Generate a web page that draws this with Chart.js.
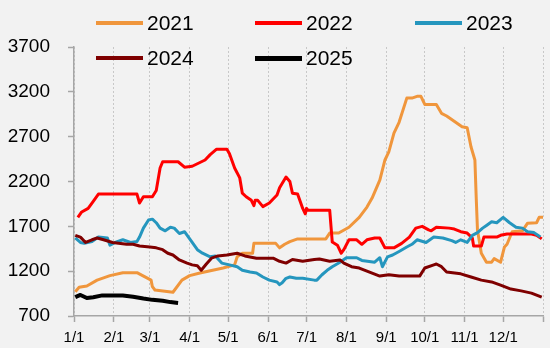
<!DOCTYPE html>
<html>
<head>
<meta charset="utf-8">
<script src="https://cdn.jsdelivr.net/npm/chart.js@4/dist/chart.umd.min.js"></script>
<style>
  html, body { margin: 0; padding: 0; background: #f2f2f2; }
  .wrap { position: relative; width: 550px; height: 348px; }
  .legend { position: absolute; left: 0; top: 0; font-family: 'Liberation Sans', sans-serif; font-size: 21px; color: #000; }
  .item { position: absolute; height: 24px; line-height: 24px; white-space: nowrap; }
  .item i { position: absolute; left: 0; top: 10px; width: 47px; height: 3px; }
  .item span { position: absolute; left: 51px; top: 0; }
</style>
</head>
<body>
<div class="wrap">
  <canvas id="c" width="550" height="348"></canvas>
  <div class="legend" id="legend"></div>
</div>
<script>
// day-of-year positions for month starts and their labels
const monthDays = [0, 31, 59, 90, 120, 151, 181, 212, 243, 273, 304, 334, 365];
const monthLabels = ['1/1', '2/1', '3/1', '4/1', '5/1', '6/1', '7/1', '8/1', '9/1', '10/1', '11/1', '12/1', ''];
const yTicks = [700, 1200, 1700, 2200, 2700, 3200, 3700];

// 2021
const days2021 = [1, 4, 10, 18, 28, 38, 49, 60, 61, 63, 77, 84, 90, 98, 116, 125, 127, 131, 139, 140, 157, 160, 164, 168, 174, 181, 196, 199, 206, 214, 222, 228, 232, 238, 242, 245, 249, 253, 259, 263, 267, 270, 273, 282, 286, 290, 297, 302, 306, 309, 312, 313, 314, 317, 321, 325, 327, 332, 335, 337, 341, 349, 353, 360, 362, 365];
const vals2021 = [970, 1020, 1035, 1100, 1150, 1183, 1183, 1100, 1027, 990, 965, 1100, 1150, 1180, 1235, 1270, 1360, 1400, 1400, 1510, 1510, 1460, 1500, 1530, 1560, 1560, 1560, 1625, 1625, 1690, 1800, 1915, 2015, 2215, 2440, 2530, 2740, 2860, 3130, 3130, 3150, 3150, 3060, 3060, 2960, 2930, 2860, 2810, 2800, 2585, 2440, 2030, 1660, 1400, 1300, 1300, 1340, 1300, 1470, 1500, 1640, 1650, 1735, 1740, 1800, 1800];

// 2022
const days2022 = [3, 6, 11, 14, 19, 49, 51, 54, 61, 64, 67, 69, 81, 86, 92, 102, 106, 111, 119, 121, 125, 129, 131, 134, 138, 140, 141, 143, 147, 152, 158, 160, 165, 168, 170, 174, 178, 180, 181, 182, 199, 201, 205, 208, 210, 214, 220, 224, 228, 234, 238, 242, 249, 255, 261, 266, 271, 276, 278, 282, 292, 296, 301, 306, 310, 311, 317, 319, 329, 332, 337, 356, 360, 364];
const vals2022 = [1800, 1860, 1900, 1960, 2060, 2060, 1960, 2030, 2030, 2100, 2350, 2420, 2420, 2360, 2370, 2440, 2500, 2560, 2560, 2510, 2350, 2240, 2070, 2030, 1990, 1930, 1990, 1990, 1920, 1960, 2050, 2130, 2250, 2200, 2070, 2060, 1900, 1840, 1900, 1880, 1880, 1525, 1490, 1400, 1440, 1550, 1550, 1500, 1550, 1570, 1570, 1460, 1460, 1510, 1580, 1680, 1700, 1660, 1650, 1690, 1680, 1670, 1640, 1625, 1570, 1480, 1480, 1580, 1580, 1600, 1615, 1615, 1600, 1560];

// 2023
const days2023 = [1, 5, 8, 14, 19, 26, 28, 32, 38, 44, 49, 51, 54, 58, 61, 64, 67, 71, 75, 78, 82, 86, 92, 96, 100, 106, 110, 115, 121, 127, 131, 137, 142, 147, 152, 158, 160, 162, 165, 168, 173, 178, 187, 189, 193, 197, 201, 207, 212, 220, 224, 234, 238, 240, 244, 248, 253, 259, 263, 267, 274, 280, 287, 294, 297, 301, 306, 310, 314, 318, 321, 325, 329, 334, 339, 344, 349, 353, 358, 363];
const vals2023 = [1570, 1520, 1510, 1530, 1580, 1570, 1490, 1520, 1550, 1520, 1530, 1580, 1680, 1770, 1780, 1740, 1680, 1650, 1690, 1680, 1620, 1640, 1520, 1440, 1400, 1360, 1370, 1290, 1270, 1250, 1210, 1190, 1180, 1135, 1100, 1080, 1050, 1070, 1120, 1135, 1120, 1120, 1100, 1100, 1160, 1210, 1250, 1300, 1350, 1350, 1320, 1300, 1350, 1250, 1360, 1380, 1420, 1470, 1500, 1550, 1520, 1580, 1570, 1540, 1520, 1550, 1520, 1600, 1630, 1680, 1710, 1750, 1740, 1800, 1740, 1690, 1680, 1640, 1630, 1580];

// 2024
const days2024 = [1, 5, 9, 14, 18, 23, 30, 41, 46, 51, 59, 64, 69, 73, 77, 82, 88, 92, 96, 99, 103, 107, 112, 119, 127, 133, 142, 155, 160, 165, 170, 178, 187, 191, 199, 207, 210, 216, 222, 230, 238, 245, 253, 269, 273, 280, 282, 286, 290, 301, 309, 317, 325, 332, 340, 348, 356, 364];
const vals2024 = [1600, 1580, 1520, 1550, 1570, 1550, 1520, 1500, 1500, 1480, 1470, 1460, 1440, 1400, 1380, 1325, 1290, 1270, 1260, 1210, 1280, 1345, 1370, 1380, 1400, 1370, 1345, 1345, 1310, 1290, 1330, 1310, 1330, 1335, 1310, 1325, 1290, 1250, 1235, 1190, 1145, 1160, 1145, 1145, 1235, 1270, 1280, 1250, 1190, 1170, 1135, 1100, 1080, 1045, 1000, 980, 955, 910];

// 2025
const days2025 = [1, 5, 10, 15, 22, 30, 38, 46, 54, 61, 69, 75, 81];
const vals2025 = [910, 935, 900, 910, 930, 928, 928, 915, 895, 880, 870, 855, 845];

const series = [
  { label: '2021', days: days2021, vals: vals2021, color: '#f0963c', width: 3 },
  { label: '2022', days: days2022, vals: vals2022, color: '#ff0000', width: 3 },
  { label: '2023', days: days2023, vals: vals2023, color: '#2596be', width: 3 },
  { label: '2024', days: days2024, vals: vals2024, color: '#7f0000', width: 3 },
  { label: '2025', days: days2025, vals: vals2025, color: '#000000', width: 4 }
];

const AXIS = '#a6a6a6';
const GRID = '#c8c8c8';
const FONT = "'Liberation Sans', sans-serif";

new Chart(document.getElementById('c'), {
  type: 'line',
  data: {
    datasets: series.map((s, i) => ({
      label: s.label,
      data: s.days.map((d, j) => ({ x: d, y: s.vals[j] })),
      borderColor: s.color,
      borderWidth: s.width,
      pointRadius: 0,
      tension: 0,
      borderJoinStyle: 'round',
      order: series.length - i
    }))
  },
  options: {
    responsive: false, animation: false,
    layout: { padding: { top: 47, right: 6, left: 0, bottom: 0 } },
    plugins: { legend: { display: false }, tooltip: { enabled: false } },
    scales: {
      x: {
        type: 'linear', min: 0, max: 365,
        afterBuildTicks: s => { s.ticks = monthDays.map(v => ({ value: v })); },
        afterFit: s => { s.height = 32; },
        grid: { color: GRID, drawOnChartArea: true, drawTicks: true, tickLength: 6, tickColor: AXIS, tickWidth: 1.5 },
        border: { display: true, color: AXIS, width: 1.5, dash: [2, 2] },
        ticks: {
          autoSkip: false, maxRotation: 0, padding: 7, color: '#000',
          font: { family: FONT, size: 15 },
          callback: v => monthLabels[monthDays.indexOf(v)]
        }
      },
      y: {
        min: 700, max: 3700,
        afterBuildTicks: s => { s.ticks = yTicks.map(v => ({ value: v })); },
        afterFit: s => { s.width = 74; },
        grid: { drawOnChartArea: false, drawTicks: true, tickLength: 6, tickColor: AXIS, tickWidth: 1.5 },
        border: { display: true, color: AXIS, width: 1.5 },
        ticks: {
          padding: 18, color: '#000',
          font: { family: FONT, size: 19 },
          callback: v => String(v)
        }
      }
    }
  }
});

// legend, laid out as in the reference (3 columns, 2 rows)
const legendPos = [[96, 11], [255, 11], [415, 11], [96, 46], [255, 46]];
const legend = document.getElementById('legend');
series.forEach((s, i) => {
  const el = document.createElement('div');
  el.className = 'item';
  el.style.left = legendPos[i][0] + 'px';
  el.style.top = legendPos[i][1] + 'px';
  el.innerHTML = '<i style="background:' + s.color + ';height:' + (s.width + 1) + 'px"></i><span>' + s.label + '</span>';
  legend.appendChild(el);
});
</script>
</body>
</html>
